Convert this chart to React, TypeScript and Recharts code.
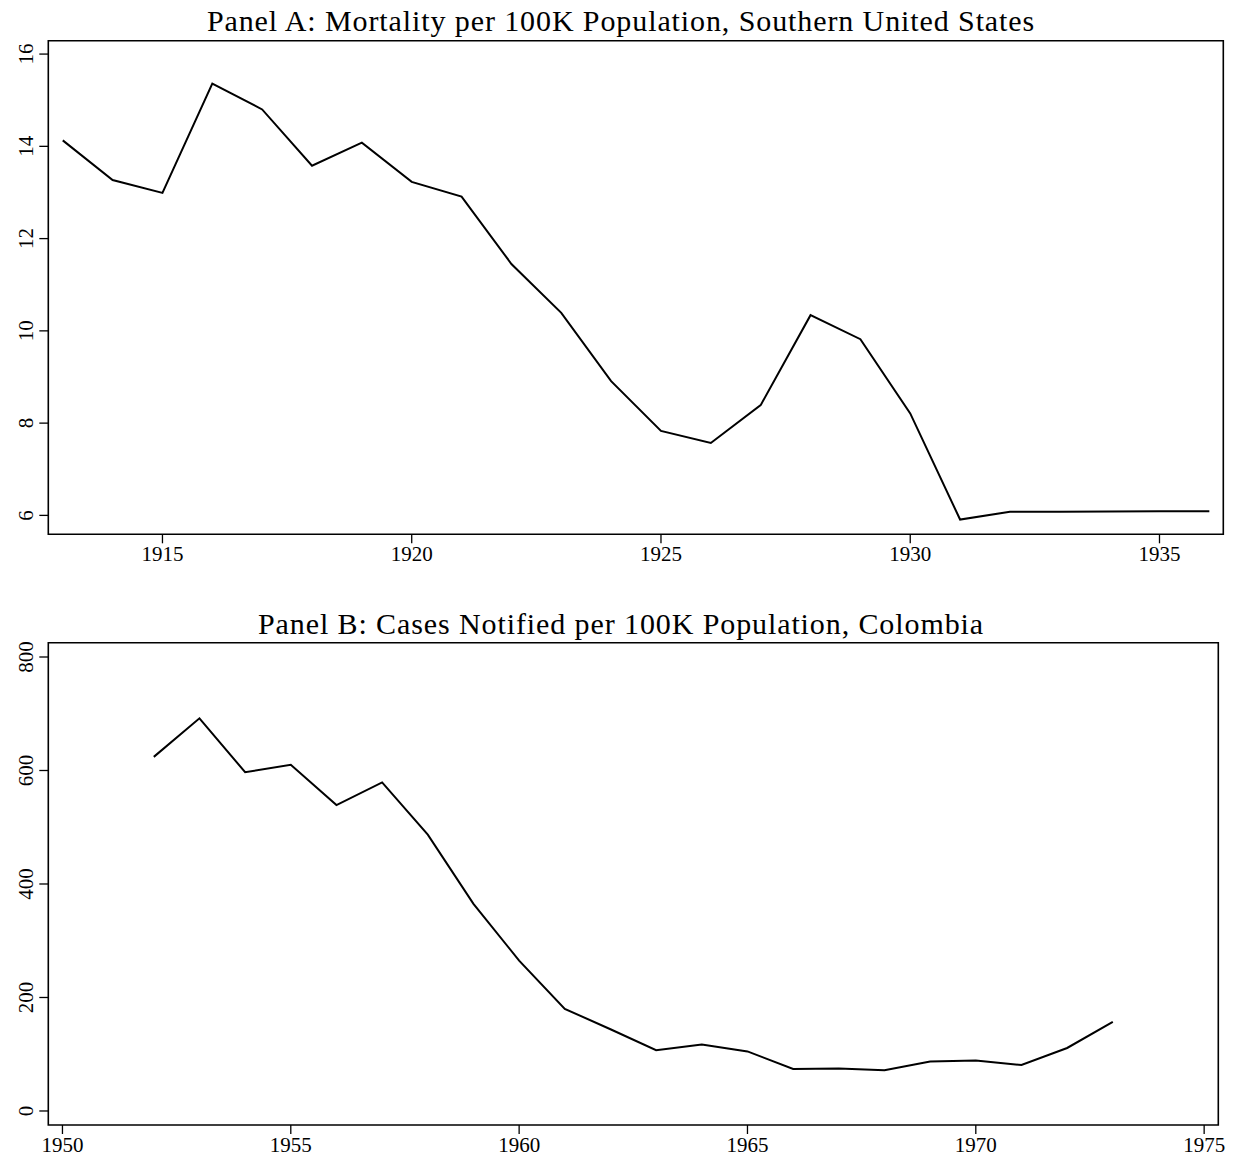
import React from 'react';
import { LineChart, Line, XAxis, YAxis, ReferenceArea } from 'recharts';

// Panel A: mortality per 100K, southern US
const yearsA = [1913, 1914, 1915, 1916, 1917, 1918, 1919, 1920, 1921, 1922, 1923, 1924,
  1925, 1926, 1927, 1928, 1929, 1930, 1931, 1932, 1933, 1934, 1935, 1936];
const mortalityA = [14.13, 13.27, 12.99, 15.36, 14.8, 13.58, 14.08, 13.23, 12.91, 11.45, 10.39, 8.91,
  7.83, 7.57, 8.39, 10.34, 9.82, 8.21, 5.91, 6.08, 6.08, 6.085, 6.09, 6.09];
const xTicksA = [1915, 1920, 1925, 1930, 1935];
const yTicksA = [6, 8, 10, 12, 14, 16];
const xDomainA: [number, number] = [1912.71, 1936.28];
const yDomainA: [number, number] = [5.59, 16.29];

// Panel B: cases notified per 100K, Colombia
const yearsB = [1952, 1953, 1954, 1955, 1956, 1957, 1958, 1959, 1960, 1961, 1962,
  1963, 1964, 1965, 1966, 1967, 1968, 1969, 1970, 1971, 1972, 1973];
const casesB = [624, 692, 597, 610, 539, 579, 487, 365, 265, 180, 144,
  107, 117, 105, 74, 75, 72, 87, 89, 81, 111, 157];
const xTicksB = [1950, 1955, 1960, 1965, 1970, 1975];
const yTicksB = [0, 200, 400, 600, 800];
const xDomainB: [number, number] = [1949.69, 1975.31];
const yDomainB: [number, number] = [-24.7, 825.2];

const dataA = yearsA.map((year, i) => ({ year, value: mortalityA[i] }));
const dataB = yearsB.map((year, i) => ({ year, value: casesB[i] }));

const FONT = '"Liberation Serif", "Times New Roman", serif';

// y tick labels in Stata style: rotated, reading bottom to top
const RotatedTick = (props: any) => {
  const { y, payload } = props;
  return (
    <text x={33} y={y} transform={`rotate(-90, 33, ${y})`} textAnchor="middle"
      fontFamily={FONT} fontSize={21} fill="#000">
      {payload.value}
    </text>
  );
};

interface PanelProps {
  title: string;
  titleTop: number;
  top: number;
  height: number;
  data: { year: number; value: number }[];
  xDomain: [number, number];
  yDomain: [number, number];
  xTicks: number[];
  yTicks: number[];
  margin: { top: number; right: number; bottom: number; left: number };
}

const Panel = ({ title, titleTop, top, height, data, xDomain, yDomain, xTicks, yTicks, margin }: PanelProps) => (
  <div style={{ position: 'absolute', left: 0, top, width: 1233, height }}>
    <div style={{
      position: 'absolute', top: titleTop, left: 0, width: 1242, textAlign: 'center',
      fontFamily: FONT, fontSize: 30, lineHeight: '30px', letterSpacing: '0.9px',
      color: '#000', whiteSpace: 'nowrap',
    }}>
      {title}
    </div>
    <LineChart width={1233} height={height} data={data} margin={margin}>
      <XAxis dataKey="year" type="number" domain={xDomain} ticks={xTicks} allowDataOverflow
        height={40} axisLine={false} tickSize={9} tickMargin={3}
        tickLine={{ stroke: '#000', strokeWidth: 1.3 }}
        tick={{ fill: '#000', fontSize: 21, fontFamily: FONT }} />
      <YAxis type="number" domain={yDomain} ticks={yTicks} allowDataOverflow
        width={48.3} axisLine={false} tickSize={9}
        tickLine={{ stroke: '#000', strokeWidth: 1.3 }} tick={<RotatedTick />} />
      <ReferenceArea x1={xDomain[0]} x2={xDomain[1]} y1={yDomain[0]} y2={yDomain[1]}
        fill="none" stroke="#000" strokeWidth={1.6} fillOpacity={0} ifOverflow="visible" />
      <Line type="linear" dataKey="value" stroke="#000" strokeWidth={2} dot={false}
        isAnimationActive={false} />
    </LineChart>
  </div>
);

export default function App() {
  return (
    <div style={{ position: 'absolute', left: 0, top: 0, width: 1233, height: 1169, background: '#fff' }}>
      <Panel
        title="Panel A: Mortality per 100K Population, Southern United States"
        titleTop={6} top={0} height={580} data={dataA}
        xDomain={xDomainA} yDomain={yDomainA} xTicks={xTicksA} yTicks={yTicksA}
        margin={{ top: 40.7, right: 9.7, bottom: 5.7, left: 0 }} />
      <Panel
        title="Panel B: Cases Notified per 100K Population, Colombia"
        titleTop={9} top={600} height={569} data={dataB}
        xDomain={xDomainB} yDomain={yDomainB} xTicks={xTicksB} yTicks={yTicksB}
        margin={{ top: 42.7, right: 14.7, bottom: 4, left: 0 }} />
    </div>
  );
}
